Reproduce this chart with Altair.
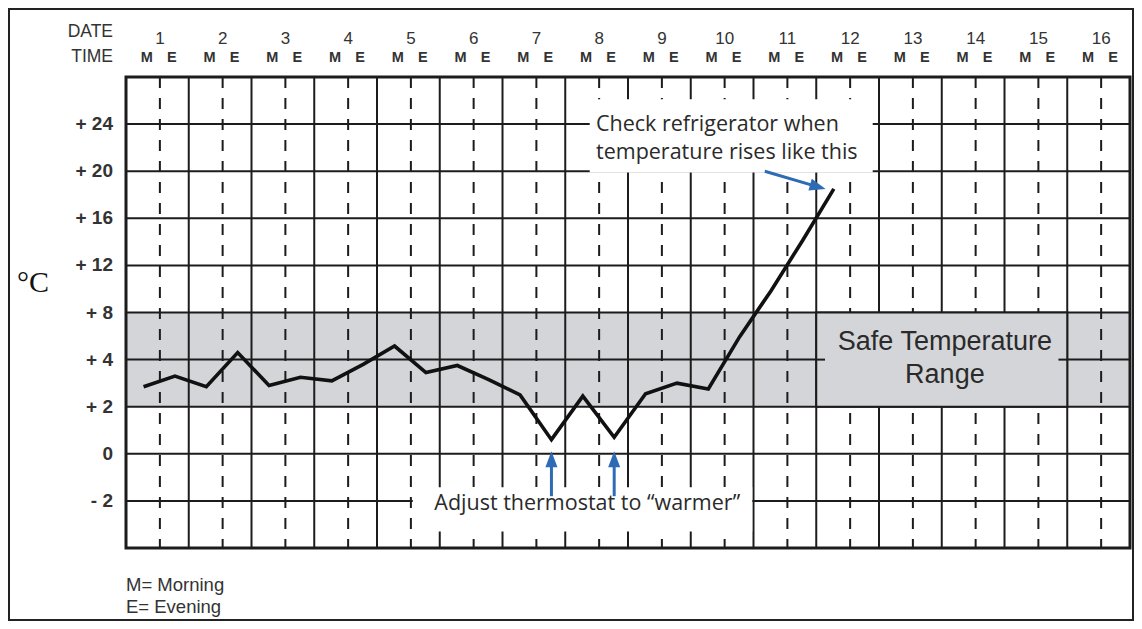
import altair as alt
import pandas as pd

W, H = 1004, 471

# ---------------- data read from the form ----------------
days = list(range(1, 17))
times = ["M", "E"]
reading_day = [1, 1, 2, 2, 3, 3, 4, 4, 5, 5, 6, 6, 7, 7, 8, 8, 9, 9, 10, 10, 11, 11, 12]
reading_time = ["M", "E"] * 11 + ["M"]
reading_temp = [2.85, 3.3, 2.85, 4.6, 2.9, 3.25, 3.1, 3.8, 5.15, 3.45, 3.75, 3.15,
                2.5, 0.6, 2.45, 0.7, 2.55, 3.0, 2.75, 5.95, 9.85, 14.1, 18.5]
tick_values = [24, 20, 16, 12, 8, 4, 2, 0, -2]
tick_labels = ["+ 24", "+ 20", "+ 16", "+ 12", "+ 8", "+ 4", "+ 2", "0", "- 2"]
row_edges = [-4, -2, 0, 2, 4, 8, 12, 16, 20, 24, 28]
safe_low, safe_high = 2, 8
adjust_days = [7, 8]
adjust_times = ["E", "E"]

M_OFF, E_OFF, MID = 0.28, 0.78, 0.54          # where readings sit inside a day
LM_OFF, LE_OFF = 0.33, 0.73                    # where the M / E header letters sit
GRID = "#1c1c1c"
GREY = "#d4d5d8"
BLUE = "#2d6cb5"
TXT = "#2a2a2a"

yscale = alt.Scale(domain=row_edges,
                   range=[H - i * H / (len(row_edges) - 1) for i in range(len(row_edges))],
                   nice=False, zero=False)
xscale = alt.Scale(domain=[0, 16], nice=False, zero=False)


def X(f):
    return alt.X(f"{f}:Q", scale=xscale, axis=None)


def Y(f):
    return alt.Y(f"{f}:Q", scale=yscale, axis=None)


xcalc = f"datum.day - 1 + (datum.time == 'M' ? {M_OFF} : {E_OFF})"
lcalc = f"datum.day - 1 + (datum.time == 'M' ? {LM_OFF} : {LE_OFF})"

# band
band = alt.Chart(pd.DataFrame({"x": [0], "x2": [16], "y": [safe_low], "y2": [safe_high]})).mark_rect(
    color=GREY).encode(x=X("x"), x2="x2", y=Y("y"), y2="y2")

hrules = alt.Chart(pd.DataFrame({"y": tick_values})).mark_rule(color=GRID, strokeWidth=2).encode(
    y=Y("y"), x=alt.value(0), x2=alt.value(W))

vrules = alt.Chart(pd.DataFrame({"x": list(range(1, 16))})).mark_rule(color=GRID, strokeWidth=2).encode(
    x=X("x"), y=alt.value(0), y2=alt.value(H))

drules = alt.Chart(pd.DataFrame({"day": days})).transform_calculate(
    x=f"datum.day - 1 + {MID}").mark_rule(color=GRID, strokeWidth=2, strokeDash=[11, 10]).encode(
    x=X("x"), y=alt.value(0), y2=alt.value(H))

border = alt.Chart(pd.DataFrame({"a": [0]})).mark_rect(
    fill="transparent", stroke=GRID, strokeWidth=3).encode(
    x=alt.value(0), x2=alt.value(W), y=alt.value(0), y2=alt.value(H))

readings = pd.DataFrame({"day": reading_day, "time": reading_time, "temp": reading_temp})
line = alt.Chart(readings).transform_calculate(x=xcalc).mark_line(
    color="#111111", strokeWidth=3.6, strokeJoin="miter").encode(x=X("x"), y=Y("temp"))

# annotation boxes
white_boxes = alt.Chart(pd.DataFrame({"x": [7.39, 4.57], "x2": [11.9, 9.98],
                                      "y": [19.9, -1.42], "y2": [26.1, -3.3]})).mark_rect(
    color="white").encode(x=X("x"), x2="x2", y=Y("y"), y2="y2")

safe_box = alt.Chart(pd.DataFrame({"x": [11], "x2": [15], "y": [safe_low], "y2": [safe_high]})).mark_rect(
    fill=GREY, stroke=GRID, strokeWidth=2).encode(x=X("x"), x2="x2", y=Y("y"), y2="y2")

stubs = alt.Chart(pd.DataFrame({"x": [11, 14.86], "x2": [11.14, 15], "y": [4, 4]})).mark_rule(
    color=GRID, strokeWidth=2).encode(x=X("x"), x2="x2", y=Y("y"))

safe_text = alt.Chart(pd.DataFrame({"x": [13.05, 13.05], "y": [5.48, 3.36],
                                    "t": ["Safe Temperature", "Range"]})).mark_text(
    font="Liberation Sans", fontSize=27, color=TXT).encode(x=X("x"), y=Y("y"), text="t:N")

check_text = alt.Chart(pd.DataFrame({"x": [7.49, 7.49], "y": [48, 76],
                                     "t": ["Check refrigerator when", "temperature rises like this"]})).mark_text(
    font="Open Sans", fontSize=21.5, color=TXT, align="left").encode(
    x=X("x"), y=alt.Y("y:Q", scale=None, axis=None), text="t:N")

adjust_text = alt.Chart(pd.DataFrame({"x": [7.35], "y": [-2.14],
                                      "t": ["Adjust thermostat to \u201cwarmer\u201d"]})).mark_text(
    font="Open Sans", fontSize=21.5, color=TXT).encode(x=X("x"), y=Y("y"), text="t:N")

# headers
day_text = alt.Chart(pd.DataFrame({"day": days})).transform_calculate(
    x=f"datum.day - 1 + {MID}").mark_text(font="Liberation Sans", fontSize=17, color="#333333").encode(
    x=X("x"), y=alt.value(-38), text="day:N")

me = pd.DataFrame([(d, t) for d in days for t in times], columns=["day", "time"])
me_text = alt.Chart(me).transform_calculate(x=lcalc).mark_text(
    font="Liberation Sans", fontSize=14.5, fontWeight="bold", color="#333333").encode(
    x=X("x"), y=alt.value(-19), text="time:N")

side_text = alt.Chart(pd.DataFrame({"t": ["DATE", "TIME"], "y": [-45.5, -20.5]})).mark_text(
    font="Liberation Sans", fontSize=17.5, color="#333333", align="right").encode(
    x=alt.value(-13), y=alt.Y("y:Q", scale=None, axis=None), text="t:N")

ylab = alt.Chart(pd.DataFrame({"v": tick_values, "label": tick_labels})).mark_text(
    font="Liberation Sans", fontSize=19, fontWeight="bold", color="#333333", align="right").encode(
    x=alt.value(-13), y=Y("v"), text="label:N")

unit = alt.Chart(pd.DataFrame({"t": ["\u00b0C"]})).mark_text(
    font="Liberation Serif", fontSize=30, color="#111111").encode(
    x=alt.value(-93), y=alt.value(206), text="t:N")

notes = alt.Chart(pd.DataFrame({"t": ["M= Morning", "E= Evening"], "y": [508, 530]})).mark_text(
    font="Liberation Sans", fontSize=18.5, color="#333333", align="left").encode(
    x=alt.value(0), y=alt.Y("y:Q", scale=None, axis=None), text="t:N")

# arrows
HEAD = "M0,-1L0.75,1L-0.75,1Z"
adj = pd.DataFrame({"day": adjust_days, "time": adjust_times, "tip": [0.11, 0.11], "base": [-1.8, -1.8]})
up_shaft = alt.Chart(adj).transform_calculate(x=xcalc).mark_rule(
    color=BLUE, strokeWidth=3, y2Offset=8).encode(x=X("x"), y=Y("base"), y2="tip")
up_head = alt.Chart(adj).transform_calculate(x=xcalc).mark_point(
    shape=HEAD, filled=True, color=BLUE, opacity=1, size=260, yOffset=8).encode(x=X("x"), y=Y("tip"))

diag = pd.DataFrame({"x": [10.18], "y": [20.0], "tx": [11.155], "ty": [18.47]})
diag_shaft = alt.Chart(diag).mark_rule(color=BLUE, strokeWidth=3, x2Offset=-8, y2Offset=-2.4).encode(
    x=X("x"), y=Y("y"), x2="tx", y2="ty")
diag_head = alt.Chart(diag).mark_point(
    shape=HEAD, filled=True, color=BLUE, opacity=1, size=260, angle=106,
    xOffset=-8.1, yOffset=-2.4).encode(x=X("tx"), y=Y("ty"))

frame = alt.Chart(pd.DataFrame({"a": [0]})).mark_rect(
    fill="transparent", stroke="#222222", strokeWidth=2).encode(
    x=alt.value(-117), x2=alt.value(W + 3), y=alt.value(-68), y2=alt.value(H + 72))

chart = alt.layer(
    band, hrules, vrules, drules, border, line, white_boxes, safe_box, stubs, safe_text,
    check_text, adjust_text, day_text, me_text, side_text, ylab, unit, notes,
    up_shaft, up_head, diag_shaft, diag_head, frame
).properties(
    width=W, height=H,
    autosize=alt.AutoSizeParams(type="none"),
    padding={"left": 118, "top": 69, "right": 4, "bottom": 74},
).configure_view(stroke=None).configure(background="white")

chart.save("out.html", embed_options={"renderer": "svg", "actions": False})
